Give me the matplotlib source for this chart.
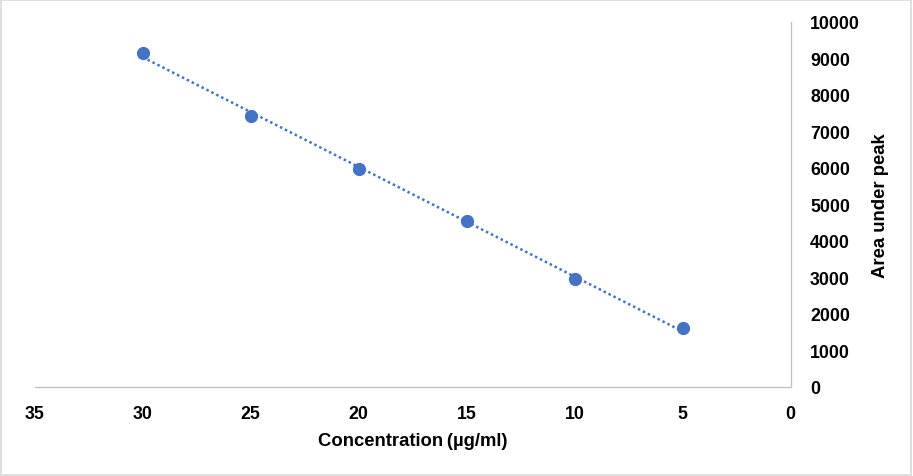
import numpy as np
import matplotlib.pyplot as plt
from matplotlib.patches import Rectangle

# Données
concentration = [30, 25, 20, 15, 10, 5]
area = [9150, 7430, 5980, 4530, 2960, 1600]
x_ticks = [35, 30, 25, 20, 15, 10, 5, 0]
y_ticks = [0, 1000, 2000, 3000, 4000, 5000, 6000, 7000, 8000, 9000, 10000]

plt.rcParams['font.family'] = ['Liberation Sans', 'DejaVu Sans']

fig = plt.figure(figsize=(9.13, 4.77), dpi=100)
ax = fig.add_axes([0.038, 0.187, 0.828, 0.765])

blue = "#4472C4"

# Courbe de tendance linéaire
slope, intercept = np.polyfit(concentration, area, 1)
xt = np.array([max(concentration), min(concentration)])
ax.plot(xt, slope * xt + intercept, color=blue, linestyle=(0, (1, 1.2)), lw=1.8, zorder=2)

# Points
ax.plot(concentration, area, "o", color=blue, markersize=8.5, zorder=3)

ax.set_xlim(35, 0)
ax.set_ylim(0, 10000)
ax.set_xticks(x_ticks)
ax.set_yticks(y_ticks)

ax.yaxis.tick_right()
ax.yaxis.set_label_position("right")

for s in ["top", "left"]:
    ax.spines[s].set_visible(False)
for s in ["bottom", "right"]:
    ax.spines[s].set_color("#BFBFBF")
    ax.spines[s].set_linewidth(0.9)

ax.tick_params(axis="both", length=0, labelsize=12.8)
ax.tick_params(axis="x", pad=13)
ax.tick_params(axis="y", pad=14)
for lab in ax.get_xticklabels() + ax.get_yticklabels():
    lab.set_fontweight("bold")

ax.set_xlabel("Concentration\u2009(µg/ml)", fontsize=13.3, fontweight="bold", labelpad=7)
ax.set_ylabel("Area under peak", fontsize=13.3, fontweight="bold", labelpad=9)

# Cadre de la figure
fig.patches.append(Rectangle((0.001, 0.002), 0.997, 0.995, transform=fig.transFigure,
                             fill=False, edgecolor="#D9D9D9", lw=1.2))

fig.savefig("out.png", dpi=100)
